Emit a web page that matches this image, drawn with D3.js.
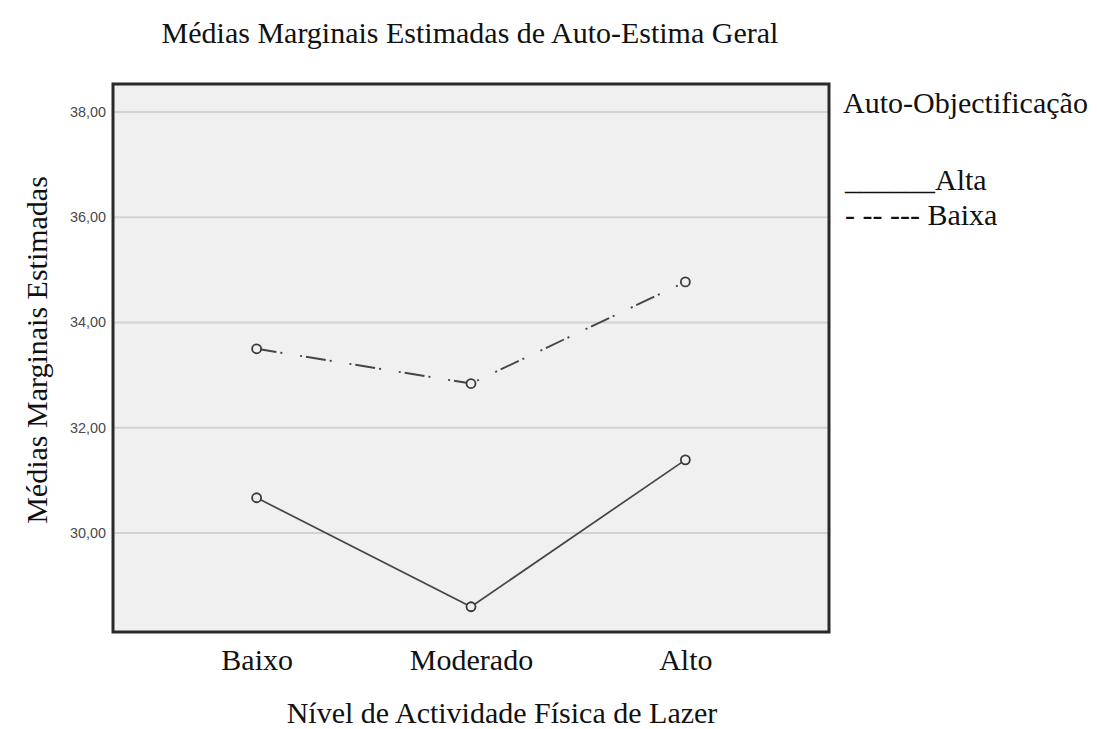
<!DOCTYPE html>
<html lang="pt">
<head>
    <meta charset="UTF-8">
    <title>Médias Marginais Estimadas</title>
    <style>
        body { margin: 0; background: #fff; }
        .serif { font-family: "Liberation Serif", "Times New Roman", serif; fill: #111; }
        .tick text { font-family: "Liberation Sans Narrow", "Arial Narrow", "Liberation Sans", sans-serif; fill: #4a4a4a; }
    </style>
    <script src="https://d3js.org/d3.v7.min.js"></script>
</head>
<body>
    <div id="chart"></div>
    <script>
        // data
        const categories = ["Baixo", "Moderado", "Alto"]
        const alta = [30.67, 28.60, 31.39]
        const baixa = [33.50, 32.84, 34.77]
        const yTicks = [30, 32, 34, 36, 38]
        const seriesNames = ["Alta", "Baixa"]

        const W = 1097, H = 729
        const plot = {left: 113, top: 84, right: 829, bottom: 632}
        const fs = "30px"

        const svg = d3.select("#chart").append("svg")
            .attr("width", W).attr("height", H)

        const x = d3.scalePoint()
            .domain(categories)
            .range([plot.left, plot.right])
            .padding(0.67)

        const y = d3.scaleLinear()
            .domain([28.12, 38.53])
            .range([plot.bottom, plot.top])

        // plot background
        svg.append("rect")
            .attr("x", plot.left).attr("y", plot.top)
            .attr("width", plot.right - plot.left)
            .attr("height", plot.bottom - plot.top)
            .attr("fill", "#f0f0f0")

        // gridlines
        svg.selectAll("line.grid")
            .data(yTicks)
            .join("line")
            .attr("class", "grid")
            .attr("x1", plot.left).attr("x2", plot.right)
            .attr("y1", d => y(d)).attr("y2", d => y(d))
            .attr("stroke", "#d2d2d2")
            .attr("stroke-width", 2)

        // y axis tick labels (narrow, like the SPSS output)
        const yAxis = svg.append("g")
            .attr("transform", `translate(${plot.left},0)`)
            .call(d3.axisLeft(y).tickValues(yTicks).tickSize(0).tickPadding(7)
                .tickFormat(d => d.toFixed(2).replace(".", ",")))
        yAxis.select(".domain").remove()
        yAxis.selectAll("text")
            .style("font-size", "14px")
            .attr("textLength", 36)
            .attr("lengthAdjust", "spacingAndGlyphs")

        // x axis labels
        const xAxis = svg.append("g")
            .attr("transform", `translate(0,${plot.bottom})`)
            .call(d3.axisBottom(x).tickSize(0).tickPadding(17))
        xAxis.select(".domain").remove()
        xAxis.selectAll("text")
            .style("font-family", "'Liberation Serif', 'Times New Roman', serif")
            .style("font-size", fs)
            .style("fill", "#111")

        // lines
        const line = d3.line()
            .x((d, i) => x(categories[i]))
            .y(d => y(d))

        svg.append("path")
            .attr("d", line(alta))
            .attr("fill", "none")
            .attr("stroke", "#454545")
            .attr("stroke-width", 1.7)

        svg.append("path")
            .attr("d", line(baixa))
            .attr("fill", "none")
            .attr("stroke", "#454545")
            .attr("stroke-width", 1.9)
            .attr("stroke-dasharray", "20,4,2,18,2,4")

        // markers
        const pts = [alta, baixa].flatMap(s => s.map((v, i) => ({cat: categories[i], v: v})))
        svg.selectAll("circle.pt")
            .data(pts)
            .join("circle")
            .attr("class", "pt")
            .attr("cx", d => x(d.cat))
            .attr("cy", d => y(d.v))
            .attr("r", 4.5)
            .attr("fill", "#f0f0f0")
            .attr("stroke", "#3a3a3a")
            .attr("stroke-width", 1.8)

        // frame
        svg.append("rect")
            .attr("x", plot.left).attr("y", plot.top)
            .attr("width", plot.right - plot.left)
            .attr("height", plot.bottom - plot.top)
            .attr("fill", "none")
            .attr("stroke", "#2a2a2a")
            .attr("stroke-width", 3)

        // title
        svg.append("text")
            .attr("class", "serif")
            .attr("x", 470).attr("y", 43)
            .attr("text-anchor", "middle")
            .style("font-size", fs)
            .text("Médias Marginais Estimadas de Auto-Estima Geral")

        // x axis title
        svg.append("text")
            .attr("class", "serif")
            .attr("x", 502).attr("y", 723)
            .attr("text-anchor", "middle")
            .style("font-size", fs)
            .text("Nível de Actividade Física de Lazer")

        // y axis title
        svg.append("text")
            .attr("class", "serif")
            .attr("transform", "translate(47,350) rotate(-90)")
            .attr("text-anchor", "middle")
            .style("font-size", fs)
            .text("Médias Marginais Estimadas")

        // legend
        const legend = svg.append("g").attr("class", "serif")
        legend.append("text")
            .attr("x", 843).attr("y", 113)
            .style("font-size", fs)
            .text("Auto-Objectificação")
        legend.selectAll("text.item")
            .data(seriesNames)
            .join("text")
            .attr("class", "item")
            .attr("x", 845)
            .attr("y", (d, i) => 190 + i * 35)
            .style("font-size", fs)
            .text((d, i) => (i === 0 ? "______" : "- -- --- ") + d)
    </script>
</body>
</html>
